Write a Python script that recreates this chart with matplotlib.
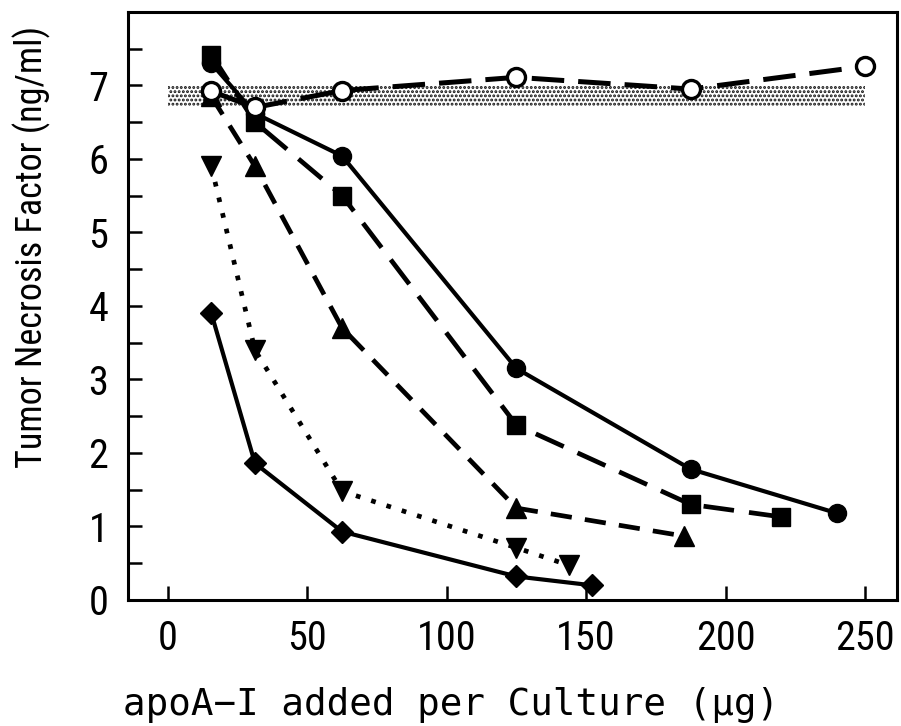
import matplotlib
matplotlib.use("Agg")
import matplotlib.pyplot as plt
from matplotlib import font_manager

# data
x_open = [15.6, 31.25, 62.5, 125, 187.5, 250]
y_open = [6.92, 6.7, 6.93, 7.11, 6.95, 7.26]

x_circ = [15.6, 31.25, 62.5, 125, 187.5, 240]
y_circ = [7.3, 6.62, 6.04, 3.15, 1.78, 1.18]

x_sq = [15.6, 31.25, 62.5, 125, 187.5, 220]
y_sq = [7.42, 6.5, 5.5, 2.38, 1.3, 1.13]

x_tri = [15.6, 31.25, 62.5, 125, 185]
y_tri = [6.85, 5.9, 3.7, 1.25, 0.87]

x_tdn = [15.6, 31.25, 62.5, 125, 144]
y_tdn = [5.9, 3.4, 1.48, 0.71, 0.47]

x_dia = [15.6, 31.25, 62.5, 125, 152]
y_dia = [3.9, 1.86, 0.93, 0.32, 0.2]

band_x = [0, 250]
band_lo = 6.72
band_hi = 7.0

xticks = [0, 50, 100, 150, 200, 250]
yticks = [0, 0.5, 1, 1.5, 2, 2.5, 3, 3.5, 4, 4.5, 5, 5.5, 6, 6.5, 7, 7.5]
ytick_labels = ['0', '', '1', '', '2', '', '3', '', '4', '', '5', '', '6', '', '7', '']

# pick a narrow font if there is one
names = set(f.name for f in font_manager.fontManager.ttflist)
narrow = 'DejaVu Sans'
narrow_scale = 0.85
for cand in ['Liberation Sans Narrow', 'DejaVu Sans Condensed', 'Roboto Condensed']:
    if cand in names:
        narrow = cand
        narrow_scale = 1.0
        break

plt.rcParams['hatch.linewidth'] = 1.4
plt.rcParams['hatch.color'] = '#111111'

fig = plt.figure(figsize=(9.01, 7.26), dpi=100)
ax = fig.add_axes([0.142, 0.1736, 0.8536, 0.81])

ax.fill_between(band_x, band_lo, band_hi, facecolor='white', hatch='....',
                edgecolor='none', linewidth=0, zorder=1)

ax.plot(x_dia, y_dia, '-', color='k', lw=3, marker='D', ms=11, zorder=3)
ax.plot(x_tdn, y_tdn, ':', color='k', lw=3.4, marker='v', ms=14, zorder=3,
        dashes=(1.0, 2.4))
ax.plot(x_tri, y_tri, '--', color='k', lw=3.4, marker='^', ms=14, zorder=3,
        dashes=(4.5, 2.8))
ax.plot(x_circ, y_circ, '-', color='k', lw=3, marker='o', ms=13, zorder=4)
ax.plot(x_sq, y_sq, '--', color='k', lw=3.4, marker='s', ms=13, zorder=5,
        dashes=(6.5, 3.2))
ax.plot(x_open, y_open, '--', color='k', lw=3.6, marker='o', ms=13,
        mfc='white', mec='k', mew=2.4, zorder=6, dashes=(6.5, 2.8))

ax.set_xlim(-14.3, 261.5)
ax.set_ylim(0, 8)
ax.set_xticks(xticks)
ax.set_yticks(yticks)
ax.set_yticklabels(ytick_labels)
ax.tick_params(direction='in', length=10, width=1.8, labelsize=29 * narrow_scale, pad=14)
ax.tick_params(axis='x', pad=14)
for lab in ax.get_xticklabels() + ax.get_yticklabels():
    lab.set_family(narrow)
for s in ax.spines.values():
    s.set_linewidth(2.2)

ax.set_xlabel('apoA\u2212I added per Culture (\u03bcg)', fontsize=27,
              family='DejaVu Sans Mono')
ax.set_ylabel('Tumor Necrosis Factor (ng/ml)', fontsize=26 * narrow_scale,
              family=narrow)
ax.xaxis.label.set_va('center')
ax.yaxis.label.set_va('center')
ax.xaxis.set_label_coords(0.42, -0.179)
ax.yaxis.set_label_coords(-0.125, 0.60)

fig.savefig('out.png', dpi=100)
